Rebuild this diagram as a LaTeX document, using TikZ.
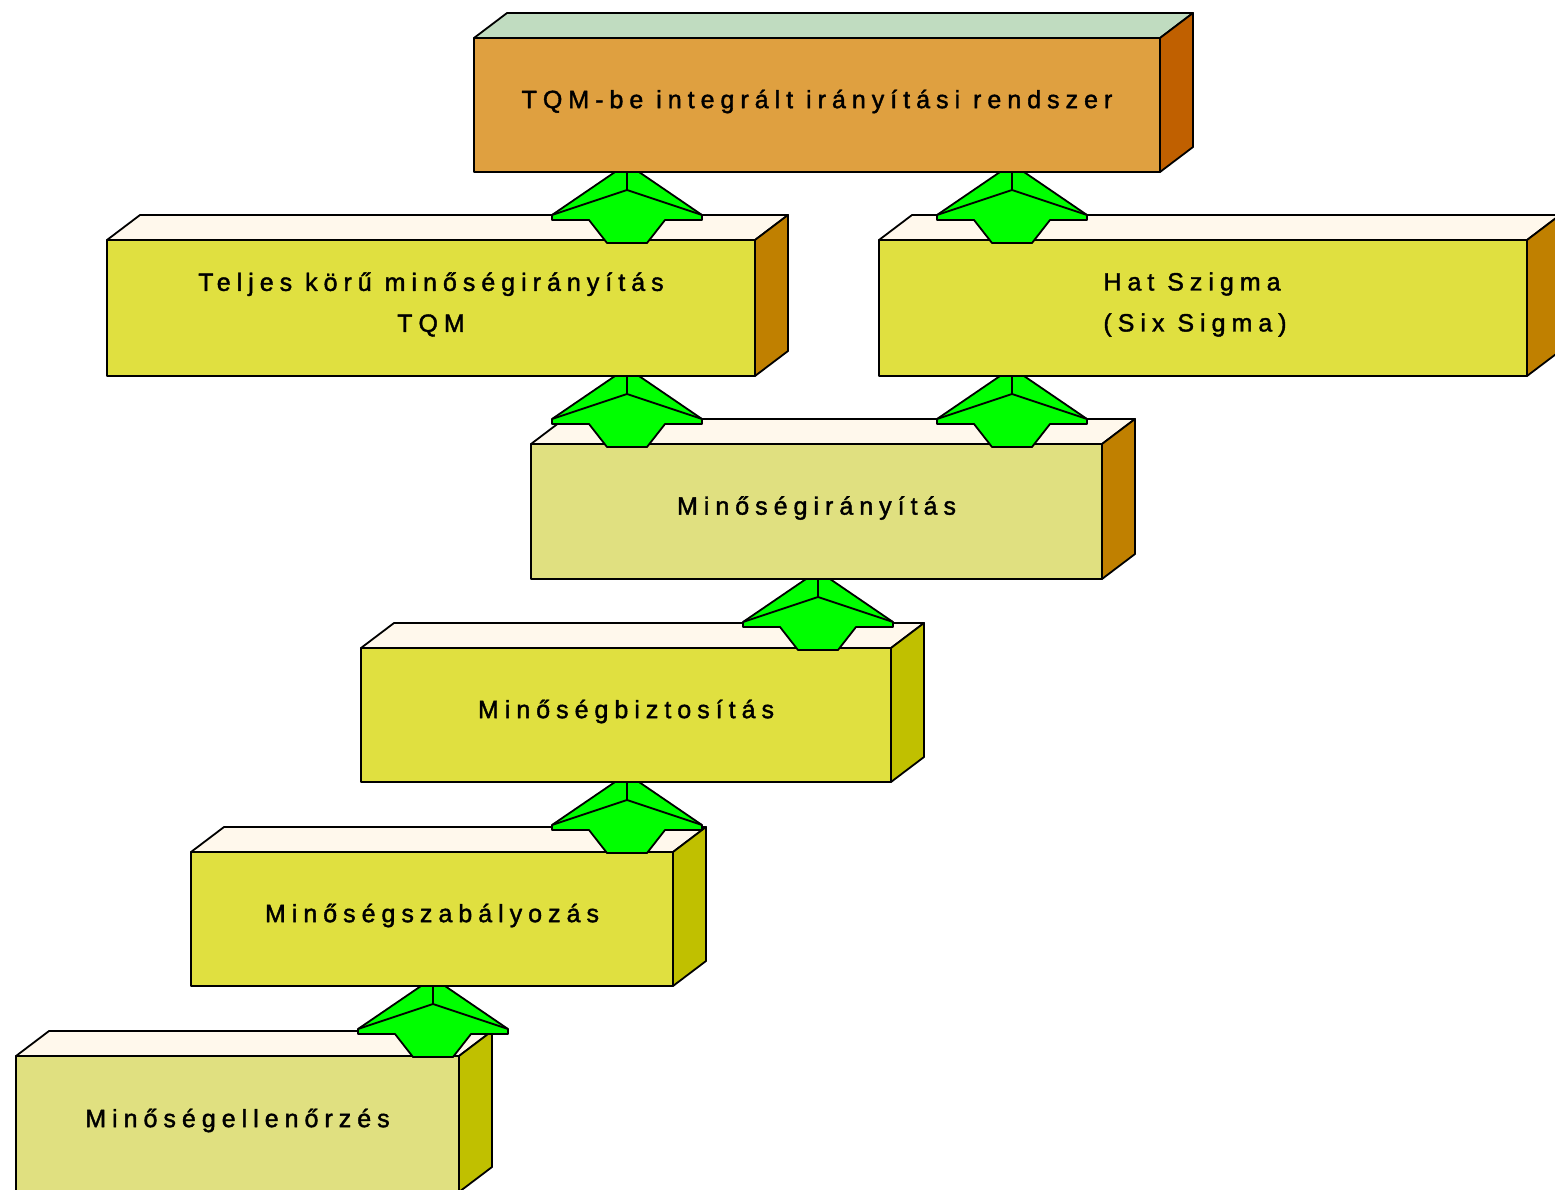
\documentclass[tikz,border=0pt]{standalone}
\usepackage{fontspec}
\setmainfont{Liberation Sans}
\newfontfamily\boxfont{Liberation Sans}[LetterSpace=24,FakeBold=1.6]
\usetikzlibrary{calc}
\definecolor{orangeFront}{RGB}{223,160,64}
\definecolor{orangeTop}{RGB}{192,220,192}
\definecolor{orangeSide}{RGB}{192,96,0}
\definecolor{yellowFront}{RGB}{224,224,64}
\definecolor{paleFront}{RGB}{224,224,128}
\definecolor{creamTop}{RGB}{255,248,236}
\definecolor{brownSide}{RGB}{192,128,0}
\definecolor{oliveSide}{RGB}{192,192,0}
\definecolor{arrowGreen}{RGB}{0,255,0}
\newcommand\prismfaces[3]{%
  \filldraw[fill=#2] (#1.north west) -- ++(33,-25) -- ($(#1.north east)+(33,-25)$) -- (#1.north east) -- cycle;
  \filldraw[fill=#3] (#1.north east) -- ++(33,-25) -- ($(#1.south east)+(33,-25)$) -- (#1.south east) -- cycle;
}
\newcommand\up[1]{\raisebox{3.5pt}[\height][\depth]{#1}}
\tikzset{
  prism/.style={draw, rectangle, outer sep=0pt, inner sep=0pt, align=center,
    font=\boxfont\fontsize{25}{41}\selectfont},
  uparrow/.pic={
    \filldraw[fill=arrowGreen] (-12,0) -- (-75,43) -- (-75,48) -- (-38,48) -- (-20,71)
      -- (20,71) -- (38,48) -- (75,48) -- (75,43) -- (12,0) -- cycle;
    \draw (-75,43) -- (0,18) -- (75,43);
    \draw (0,0) -- (0,18);
  }
}
\begin{document}
\begin{tikzpicture}[x=1pt,y=-1pt,line width=1.8pt,line join=round]
\path[use as bounding box] (0,0) rectangle (1555,1189);
\clip (0,0) rectangle (1555,1189);
\fill[white] (0,0) rectangle (1555,1189);

\node[prism, fill=orangeFront, minimum width=686pt, minimum height=134pt] (top) at (817,105) {\up{TQM-be integrált irányítási rendszer}};
\prismfaces{top}{orangeTop}{orangeSide}

\node[prism, fill=yellowFront, minimum width=648pt, minimum height=136pt] (tqm) at (431,308) {\up{Teljes körű minőségirányítás}\\\up{TQM}};
\prismfaces{tqm}{creamTop}{brownSide}

\node[prism, fill=yellowFront, minimum width=648pt, minimum height=136pt, align=left] (six) at (1203,308) {\up{Hat Szigma}\\\up{(Six Sigma)}\hspace*{16pt}};
\prismfaces{six}{creamTop}{brownSide}

\node[prism, fill=paleFront, minimum width=571pt, minimum height=135pt] (mir) at (816.5,511.5) {\up{Minőségirányítás}};
\prismfaces{mir}{creamTop}{brownSide}

\node[prism, fill=yellowFront, minimum width=530pt, minimum height=134pt] (mbt) at (626,715) {\up{Minőségbiztosítás}};
\prismfaces{mbt}{creamTop}{oliveSide}

\node[prism, fill=yellowFront, minimum width=482pt, minimum height=134pt] (msz) at (432,919) {\up{Minőségszabályozás}};
\prismfaces{msz}{creamTop}{oliveSide}

\node[prism, fill=paleFront, minimum width=443pt, minimum height=136pt] (mel) at (237.5,1124) {\up{Minőségellenőrzés}};
\prismfaces{mel}{creamTop}{oliveSide}

\coordinate (aA) at ($(top.south)+(-190,0)$);
\coordinate (aB) at ($(top.south)+(195,0)$);
\coordinate (aC) at (aA |- tqm.south);
\coordinate (aD) at (aB |- six.south);
\coordinate (aE) at ($(mir.south)+(1.5,0)$);
\coordinate (aF) at ($(mbt.south)+(1,0)$);
\coordinate (aG) at ($(msz.south)+(1,0)$);
\foreach \c in {aA,aB,aC,aD,aE,aF,aG} { \pic at (\c) {uparrow}; }
\end{tikzpicture}
\end{document}
